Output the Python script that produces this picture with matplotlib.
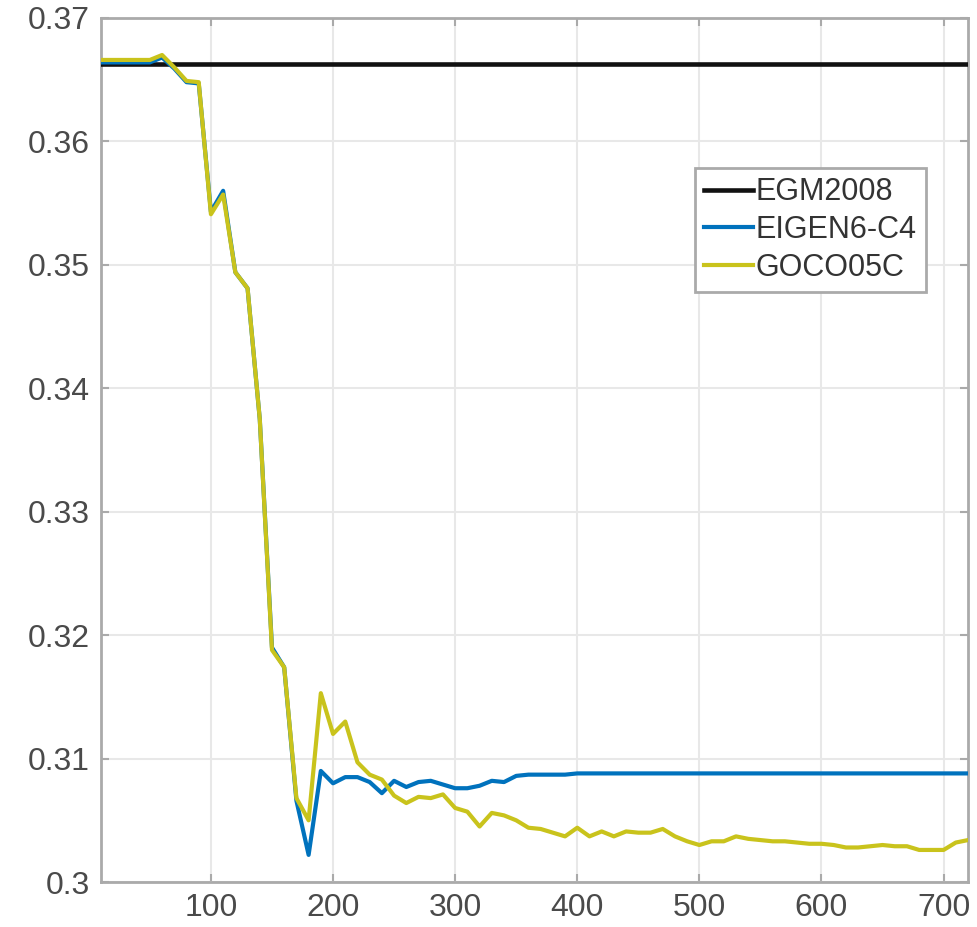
import matplotlib.pyplot as plt
import numpy as np

# valores (grau n x valor)
x_goco = [10, 20, 30, 40, 50, 60, 70, 80, 90, 100, 110, 120, 130, 140, 150, 160, 170, 180,
          190, 200, 210, 220, 230, 240, 250, 260, 270, 280, 290, 300, 310, 320, 330, 340,
          350, 360, 370, 380, 390, 400, 410, 420, 430, 440, 450, 460, 470, 480, 490, 500,
          510, 520, 530, 540, 550, 560, 570, 580, 590, 600, 610, 620, 630, 640, 650, 660,
          670, 680, 690, 700, 710, 720]
y_goco = [0.3666, 0.3666, 0.3666, 0.3666, 0.3666, 0.3670, 0.3660, 0.3649, 0.3648, 0.3541,
          0.3557, 0.3494, 0.3481, 0.3375, 0.3188, 0.3174, 0.3068, 0.3050, 0.3153, 0.3120,
          0.3130, 0.3097, 0.3087, 0.3083, 0.3070, 0.3064, 0.3069, 0.3068, 0.3071, 0.3060,
          0.3057, 0.3045, 0.3056, 0.3054, 0.3050, 0.3044, 0.3043, 0.3040, 0.3037, 0.3044,
          0.3037, 0.3041, 0.3037, 0.3041, 0.3040, 0.3040, 0.3043, 0.3037, 0.3033, 0.3030,
          0.3033, 0.3033, 0.3037, 0.3035, 0.3034, 0.3033, 0.3033, 0.3032, 0.3031, 0.3031,
          0.3030, 0.3028, 0.3028, 0.3029, 0.3030, 0.3029, 0.3029, 0.3026, 0.3026, 0.3026,
          0.3032, 0.3034]

x_eigen = x_goco
y_eigen = [0.3664, 0.3664, 0.3664, 0.3664, 0.3664, 0.3668, 0.3659, 0.3648, 0.3647, 0.3543,
           0.3560, 0.3494, 0.3481, 0.3375, 0.3190, 0.3174, 0.3066, 0.3022, 0.3090, 0.3080,
           0.3085, 0.3085, 0.3081, 0.3072, 0.3082, 0.3077, 0.3081, 0.3082, 0.3079, 0.3076,
           0.3076, 0.3078, 0.3082, 0.3081, 0.3086, 0.3087, 0.3087, 0.3087, 0.3087, 0.3088,
           0.3088, 0.3088, 0.3088, 0.3088, 0.3088, 0.3088, 0.3088, 0.3088, 0.3088, 0.3088,
           0.3088, 0.3088, 0.3088, 0.3088, 0.3088, 0.3088, 0.3088, 0.3088, 0.3088, 0.3088,
           0.3088, 0.3088, 0.3088, 0.3088, 0.3088, 0.3088, 0.3088, 0.3088, 0.3088, 0.3088,
           0.3088, 0.3088]

x_egm = [10, 720]
y_egm = [0.3663, 0.3663]

xticks = [100, 200, 300, 400, 500, 600, 700]
yticks = [0.30, 0.31, 0.32, 0.33, 0.34, 0.35, 0.36, 0.37]
ylabels = ['0.3', '0.31', '0.32', '0.33', '0.34', '0.35', '0.36', '0.37']

plt.rcParams['font.family'] = ['Liberation Sans', 'DejaVu Sans']

fig = plt.figure(figsize=(9.78, 9.27), dpi=100)
ax = fig.add_axes([0.1033, 0.0485, 0.8865, 0.9321])

ax.plot(x_egm, y_egm, color='#111111', lw=3.3, label='EGM2008', zorder=3)
ax.plot(x_eigen, y_eigen, color='#0072BD', lw=3, label='EIGEN6-C4', zorder=4)
ax.plot(x_goco, y_goco, color='#c9c31c', lw=3, label='GOCO05C', zorder=5)

ax.set_xlim(10, 720)
ax.set_ylim(0.30, 0.37)
ax.set_xticks(xticks)
ax.set_yticks(yticks)
ax.set_yticklabels(ylabels)
ax.grid(True, color='#e8e8e8', lw=1.5)
ax.set_axisbelow(True)

for s in ax.spines.values():
    s.set_color('#aaaaaa')
    s.set_linewidth(2)
ax.tick_params(direction='in', length=6, width=1.5, color='#aaaaaa',
               labelsize=23, labelcolor='#4a4a4a', top=True, right=True, pad=8)

leg = ax.legend(loc='upper right', bbox_to_anchor=(0.9516, 0.826), borderaxespad=0,
                fontsize=22, handlelength=1.6, handletextpad=0.1, labelspacing=0.25,
                borderpad=0.3, fancybox=False, framealpha=1)
leg.get_frame().set_edgecolor('#aaaaaa')
leg.get_frame().set_linewidth(2)
for t in leg.get_texts():
    t.set_color('#333333')

plt.savefig('out.png', dpi=100)
